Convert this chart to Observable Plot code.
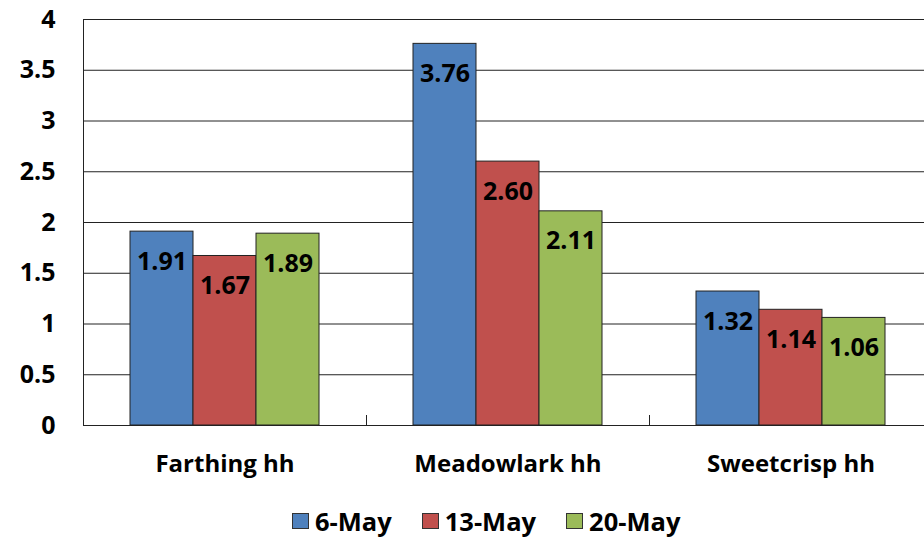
<!DOCTYPE html>
<html>
<head>
<meta charset="utf-8">
<script src="https://cdn.jsdelivr.net/npm/d3@7"></script>
<script src="https://cdn.jsdelivr.net/npm/@observablehq/plot@0.6"></script>
<style>
  html, body { margin: 0; padding: 0; background: #fff; }
  #wrap { width: 924px; height: 539px; position: relative; overflow: hidden; font-family: "Open Sans", sans-serif; font-weight: 700; }
  #legend { display: flex; align-items: center; margin-left: 292px; height: 52px; font-size: 25.5px; color: #000; }
  .item { display: flex; align-items: center; margin-right: 30px; }
  .sw { width: 15px; height: 14px; border: 1px solid #333; margin-right: 6px; }
</style>
</head>
<body>
<div id="wrap"><div id="chart"></div><div id="legend"></div></div>
<script>
const categories = ["Farthing hh", "Meadowlark hh", "Sweetcrisp hh"];
const series = ["6-May", "13-May", "20-May"];
const may6 = [1.91, 3.76, 1.32];
const may13 = [1.67, 2.60, 1.14];
const may20 = [1.89, 2.11, 1.06];
const colors = ["#4F81BD", "#C0504D", "#9BBB59"];
const yTicks = [0, 0.5, 1, 1.5, 2, 2.5, 3, 3.5, 4];

const valuesBySeries = [may6, may13, may20];
const data = categories.flatMap((c, i) =>
  series.map((s, j) => ({category: c, series: s, value: valuesBySeries[j][i]}))
);

const chart = Plot.plot({
  width: 924,
  height: 495,
  marginLeft: 83,
  marginRight: -8,
  marginTop: 19,
  marginBottom: 70,
  style: {fontFamily: "'Open Sans', sans-serif", fontWeight: 700, background: "#fff", color: "#000"},
  fx: {domain: categories, padding: 0, label: null},
  x: {domain: series, paddingInner: 0, paddingOuter: 0.73, axis: null},
  y: {domain: [0, 4], label: null},
  color: {domain: series, range: colors},
  marks: [
    Plot.ruleY(yTicks, {stroke: "#222", strokeWidth: 1}),
    Plot.frame({anchor: "left", facetAnchor: "left", stroke: "#222"}),
    Plot.frame({anchor: "left", insetTop: 396, stroke: "#222"}),
    Plot.barY(data, {fx: "category", x: "series", y: "value", fill: "series", stroke: "#222", strokeWidth: 1}),
    Plot.text(data, {fx: "category", x: "series", y: "value", text: d => d.value.toFixed(2), dy: 30, fontSize: 25, fill: "#000", fontWeight: 700}),
    Plot.axisY({ticks: yTicks, tickSize: 0, tickPadding: 28, fontSize: 25, tickFormat: d => String(d), label: null}),
    Plot.axisFx({anchor: "bottom", tickSize: 0, tickPadding: 29, fontSize: 24, label: null})
  ]
});
document.getElementById("chart").appendChild(chart);

const legend = document.getElementById("legend");
series.forEach((s, j) => {
  const item = document.createElement("div");
  item.className = "item";
  const sw = document.createElement("div");
  sw.className = "sw";
  sw.style.background = colors[j];
  const t = document.createElement("span");
  t.textContent = s;
  item.appendChild(sw);
  item.appendChild(t);
  legend.appendChild(item);
});
</script>
</body>
</html>
